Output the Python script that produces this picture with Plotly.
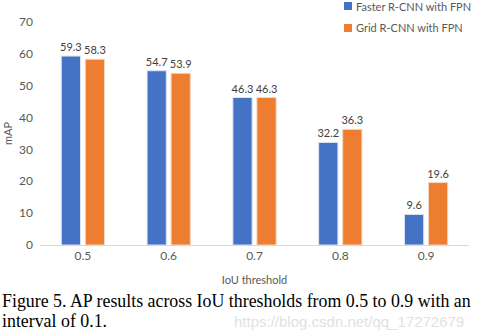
import plotly.graph_objects as go

categories = ["0.5", "0.6", "0.7", "0.8", "0.9"]
faster_rcnn = [59.3, 54.7, 46.3, 32.2, 9.6]
grid_rcnn = [58.3, 53.9, 46.3, 36.3, 19.6]
series_names = ["Faster R-CNN with FPN", "Grid R-CNN with FPN"]
series_colors = ["#4472C4", "#ED7D31"]
y_ticks = [0, 10, 20, 30, 40, 50, 60, 70]
caption_lines = ["Figure 5. AP results across IoU thresholds from 0.5 to 0.9 with an",
                 "interval of 0.1."]
watermark = "https://blog.csdn.net/qq_17272679"

W, H = 477, 334
ML, MR, MT, MB = 40, 8, 22, 89
PW = W - ML - MR
PH = H - MT - MB

def px(x):
    return (x - ML) / PW

def py(y):
    return (H - MB - y) / PH

FONT = "Lato"
fig = go.Figure()
for name, vals, col, edge in [(series_names[0], faster_rcnn, series_colors[0], "#dbe3f3"),
                              (series_names[1], grid_rcnn, series_colors[1], "#f7d6c0")]:
    fig.add_trace(go.Bar(x=categories, y=vals, name=name,
                         marker=dict(color=col, line=dict(color=edge, width=1)),
                         text=[f"{v:.1f}" for v in vals], textposition="outside",
                         constraintext="none",
                         textfont=dict(color="#404040", size=11, family=FONT),
                         cliponaxis=False))

annotations = [
    dict(text=caption_lines[0], x=px(0), y=py(301), xref="paper", yref="paper",
         xanchor="left", yanchor="middle", showarrow=False,
         font=dict(family="Liberation Serif", size=17.85, color="#000000")),
    dict(text=caption_lines[1], x=px(0), y=py(321), xref="paper", yref="paper",
         xanchor="left", yanchor="middle", showarrow=False,
         font=dict(family="Liberation Serif", size=17.85, color="#000000")),
    dict(text=watermark, x=px(466), y=py(321), xref="paper", yref="paper",
         xanchor="right", yanchor="middle", showarrow=False,
         font=dict(family="Liberation Sans", size=15, color="#e2e2e2")),
]
shapes = []
legend_rows = [6, 28]
for name, col, yc in zip(series_names, series_colors, legend_rows):
    shapes.append(dict(type="rect", xref="paper", yref="paper",
                       x0=px(344), x1=px(352), y0=py(yc + 4), y1=py(yc - 4),
                       fillcolor=col, line=dict(width=0)))
    annotations.append(dict(text=name, x=px(354), y=py(yc), xref="paper", yref="paper",
                            xanchor="left", yanchor="middle", showarrow=False,
                            font=dict(family=FONT, size=11, color="#595959")))

fig.update_layout(
    width=W, height=H,
    margin=dict(l=ML, r=MR, t=MT, b=MB, autoexpand=False),
    paper_bgcolor="white", plot_bgcolor="white",
    barmode="group", bargap=0.44, bargroupgap=0.2,
    font=dict(family=FONT, size=12, color="#595959"),
    showlegend=False,
    annotations=annotations,
    shapes=shapes,
    xaxis=dict(showline=True, linecolor="#d9d9d9", linewidth=1, ticks="",
               title=dict(text="IoU threshold", font=dict(size=11), standoff=13),
               tickfont=dict(size=12), showgrid=False),
    yaxis=dict(range=[0, 70], tickvals=y_ticks, showgrid=False, zeroline=False,
               showline=False, ticks="", ticklabelstandoff=6,
               title=dict(text="mAP", font=dict(size=11), standoff=4),
               tickfont=dict(size=12)),
)

fig.write_html("out.html")
